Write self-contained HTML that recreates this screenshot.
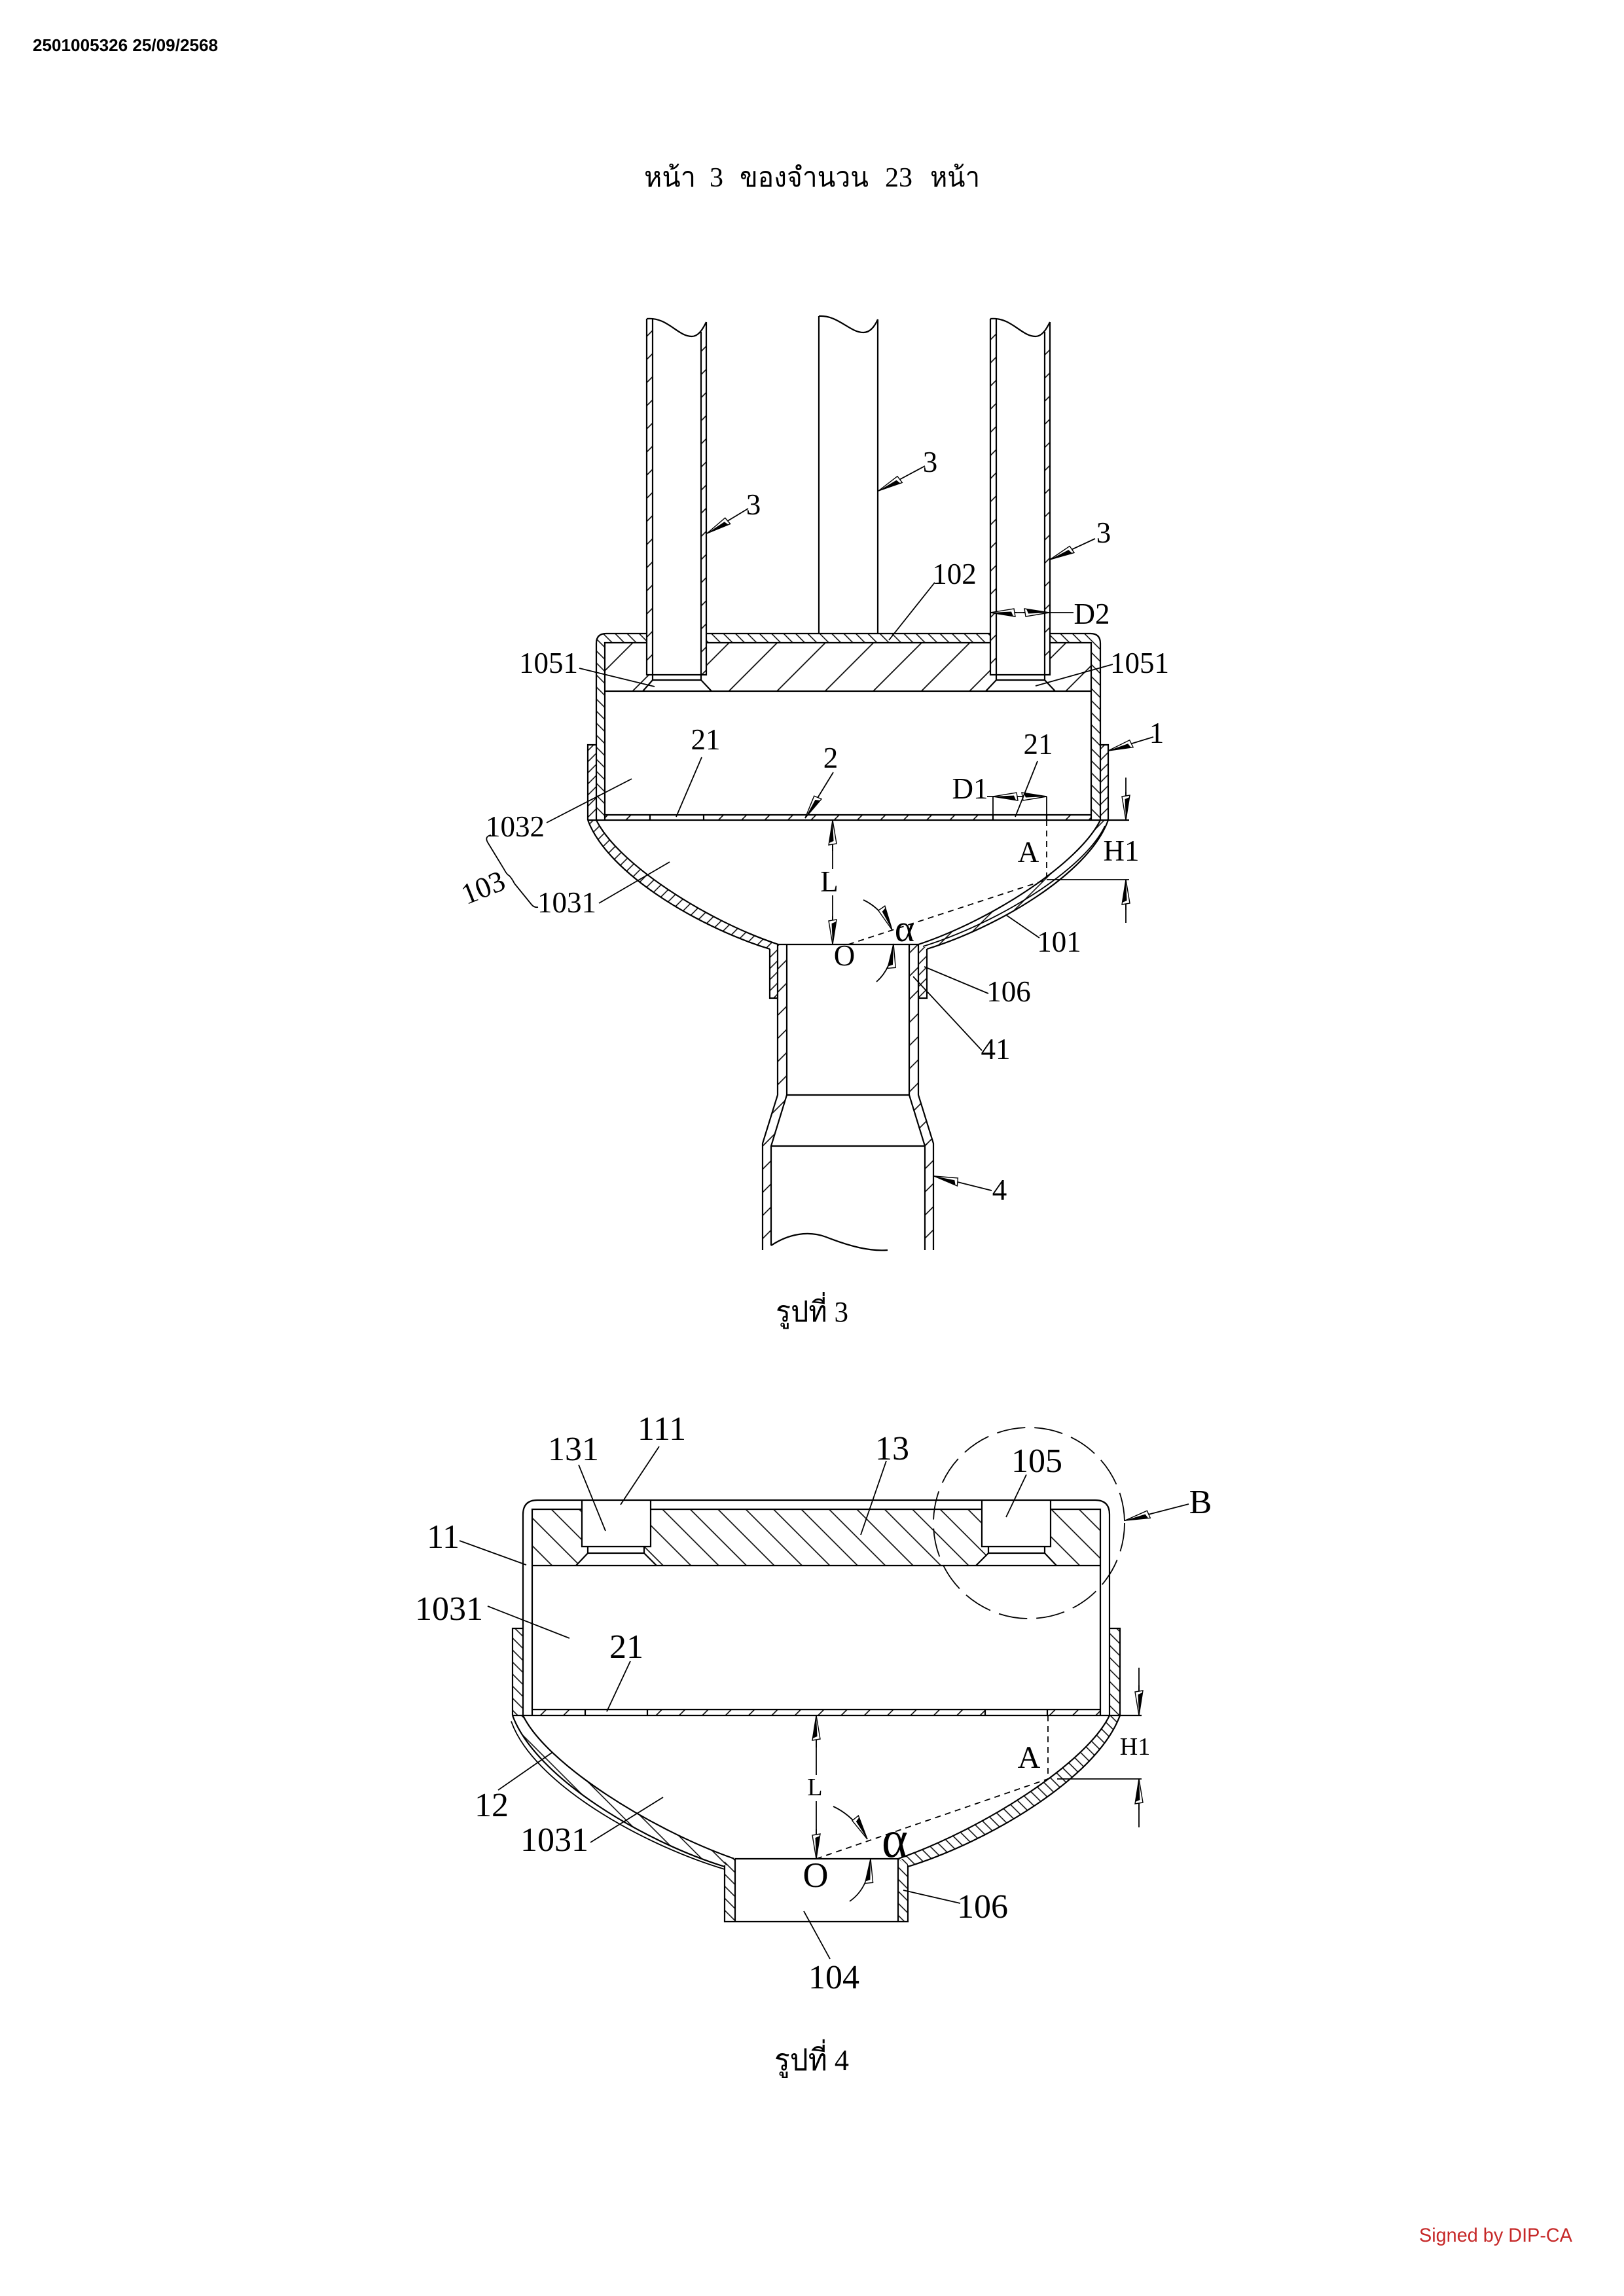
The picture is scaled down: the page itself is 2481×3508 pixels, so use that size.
<!DOCTYPE html>
<html><head><meta charset="utf-8"><style>
html,body{margin:0;padding:0;background:#fff;}
svg{display:block;}
.t{font-family:"Liberation Serif","Noto Serif CJK SC",serif;fill:#000;}
.ln{fill:none;stroke:#000;stroke-width:2.2;}
.ld{fill:none;stroke:#000;stroke-width:1.8;}
</style></head><body>
<svg width="2481" height="3508" viewBox="0 0 2481 3508" xmlns="http://www.w3.org/2000/svg">
<defs>
<pattern id="tw" width="25" height="25" patternUnits="userSpaceOnUse" patternTransform="rotate(45)"><line x1="12" y1="-2" x2="12" y2="27" stroke="#000" stroke-width="1.6"/></pattern>
<pattern id="hw" width="13" height="13" patternUnits="userSpaceOnUse" patternTransform="rotate(-45)"><line x1="6" y1="-2" x2="6" y2="15" stroke="#000" stroke-width="1.5"/></pattern>
<pattern id="sl" width="12" height="12" patternUnits="userSpaceOnUse" patternTransform="rotate(45)"><line x1="6" y1="-2" x2="6" y2="14" stroke="#000" stroke-width="1.5"/></pattern>
<pattern id="b3" width="52" height="52" patternUnits="userSpaceOnUse" patternTransform="rotate(45)"><line x1="26" y1="-2" x2="26" y2="54" stroke="#000" stroke-width="1.7"/></pattern>
<pattern id="bl3" width="13" height="13" patternUnits="userSpaceOnUse" patternTransform="rotate(45)"><line x1="6" y1="-2" x2="6" y2="15" stroke="#000" stroke-width="1.5"/></pattern>
<pattern id="br3" width="22" height="22" patternUnits="userSpaceOnUse" patternTransform="rotate(45)"><line x1="11" y1="-2" x2="11" y2="24" stroke="#000" stroke-width="1.5"/></pattern>
<pattern id="b4" width="30" height="30" patternUnits="userSpaceOnUse" patternTransform="rotate(-45)"><line x1="15" y1="-2" x2="15" y2="32" stroke="#000" stroke-width="1.6"/></pattern>
<pattern id="n4" width="13" height="13" patternUnits="userSpaceOnUse" patternTransform="rotate(-45)"><line x1="6" y1="-2" x2="6" y2="15" stroke="#000" stroke-width="1.5"/></pattern>
<pattern id="bl4" width="20" height="20" patternUnits="userSpaceOnUse" patternTransform="rotate(-45)"><line x1="10" y1="-2" x2="10" y2="22" stroke="#000" stroke-width="1.5"/></pattern>
<pattern id="br4" width="12" height="12" patternUnits="userSpaceOnUse" patternTransform="rotate(-45)"><line x1="6" y1="-2" x2="6" y2="14" stroke="#000" stroke-width="1.5"/></pattern>
<marker id="ar" viewBox="0 -8 40 16" refX="39" refY="0" markerWidth="40" markerHeight="16" markerUnits="userSpaceOnUse" orient="auto">
<path d="M39,0 L1,-6 L3,6 Z" fill="#fff" stroke="#000" stroke-width="1.4"/>
<path d="M39,0 L4,-5.5 L7,1.5 Z" fill="#000"/>
</marker>
</defs>
<rect x="0" y="0" width="2481" height="3508" fill="#fff"/>

<!-- Header -->
<text x="50" y="78" font-family="Liberation Sans, DejaVu Sans, sans-serif" font-weight="bold" font-size="26" textLength="283" lengthAdjust="spacingAndGlyphs">2501005326 25/09/2568</text>

<!-- Title -->
<g class="t" font-size="42">
<text x="984" y="285" textLength="79" lengthAdjust="spacingAndGlyphs">หน้า</text>
<text x="1084" y="285">3</text>
<text x="1130" y="285" textLength="197" lengthAdjust="spacingAndGlyphs">ของจำนวน</text>
<text x="1352" y="285">23</text>
<text x="1421" y="285" textLength="76" lengthAdjust="spacingAndGlyphs">หน้า</text>
</g>

<!-- ================= FIG 3 ================= -->
<path d="M911,1253 L911,983 Q911,968 926,968 L1666,968 Q1681,968 1681,983 L1681,1253 L1667,1253 L1667,982 L924,982 L924,1253 Z" fill="url(#hw)"/>
<path fill-rule="evenodd" fill="url(#b3)" d="M924,982 H1667 V1056 H924 Z M988,982 H1079 V1031 H1071 V1039 L1087,1056 H982 L997,1039 V1031 H988 Z M1513,982 H1604 V1031 H1596 V1039 L1612,1056 H1506 L1522,1039 V1031 H1513 Z"/>
<path class="ln" d="M911,1253 L911,983 Q911,968 926,968 L1666,968 Q1681,968 1681,983 L1681,1253"/>
<path class="ln" d="M924,1253 L924,982 L1667,982 L1667,1253"/>
<path class="ln" d="M924,1056 H1667"/>
<path class="ln" d="M997,1039 L982,1056 M1071,1039 L1087,1056 M1522,1039 L1506,1056 M1596,1039 L1612,1056"/>

<!-- left tube -->
<rect x="988" y="484" width="91" height="547" fill="#fff"/>
<rect x="988" y="492" width="9" height="539" fill="url(#tw)"/>
<rect x="1071" y="508" width="8" height="523" fill="url(#tw)"/>
<path class="ln" d="M988,487 C1020,484 1035,514 1057,514 C1068,514 1075,500 1079,492"/>
<path class="ln" d="M988,487 V1031 H1079 V492"/>
<path class="ln" d="M997,488 V1039 H1071 V507"/>
<!-- right tube -->
<rect x="1513" y="484" width="91" height="547" fill="#fff"/>
<rect x="1513" y="492" width="9" height="539" fill="url(#tw)"/>
<rect x="1596" y="508" width="8" height="523" fill="url(#tw)"/>
<path class="ln" d="M1513,487 C1545,484 1560,514 1582,514 C1593,514 1600,500 1604,492"/>
<path class="ln" d="M1513,487 V1031 H1604 V492"/>
<path class="ln" d="M1522,488 V1039 H1596 V507"/>
<!-- center rod -->
<path class="ln" d="M1251,483 C1280,481 1298,508 1319,508 C1330,508 1337,497 1341,488"/>
<path class="ln" d="M1251,483 V968 M1341,488 V968"/>

<!-- plate 2 -->
<rect x="924" y="1245" width="69" height="8" fill="url(#tw)"/>
<rect x="1075" y="1245" width="442" height="8" fill="url(#tw)"/>
<rect x="1599" y="1245" width="68" height="8" fill="url(#tw)"/>
<path class="ln" d="M924,1245 H1667 M898,1253 H1725 M993,1245 V1253 M1075,1245 V1253 M1517,1245 V1253 M1599,1245 V1253"/>

<!-- sleeves -->
<rect x="898" y="1138" width="13" height="115" fill="url(#sl)"/>
<rect x="1681" y="1138" width="12" height="115" fill="url(#sl)"/>
<path class="ln" d="M911,1138 H898 V1253 M1681,1138 H1693 V1253"/>

<!-- bowl -->
<path fill="url(#bl3)" d="M898,1253 C929,1336 1071,1418 1176,1450 L1189,1443 C1075,1405 943,1318 911,1253 Z"/>
<path fill="url(#br3)" d="M1693,1253 C1663,1336 1521,1418 1416,1450 L1403,1443 C1517,1405 1649,1318 1681,1253 Z"/>
<path class="ln" d="M898,1253 C929,1336 1071,1418 1176,1450"/>
<path class="ln" d="M911,1253 C943,1318 1075,1405 1189,1443"/>
<path class="ln" d="M1693,1253 C1663,1336 1521,1418 1416,1450"/>
<path class="ln" d="M1681,1253 C1649,1318 1517,1405 1403,1443"/>
<path class="ld" d="M1688,1262 C1656,1330 1520,1412 1410,1446"/>

<!-- neck / pipe -->
<rect x="1176" y="1447" width="12" height="78" fill="url(#sl)"/>
<rect x="1403" y="1447" width="13" height="78" fill="url(#sl)"/>
<rect x="1188" y="1443" width="14" height="230" fill="url(#tw)"/>
<rect x="1389" y="1443" width="14" height="230" fill="url(#tw)"/>
<path fill="url(#tw)" d="M1188,1673 L1202,1673 L1178,1751 L1165,1747 Z"/>
<path fill="url(#tw)" d="M1389,1673 L1403,1673 L1426,1747 L1413,1751 Z"/>
<rect x="1165" y="1747" width="13" height="163" fill="url(#tw)"/>
<rect x="1413" y="1747" width="13" height="163" fill="url(#tw)"/>
<path class="ln" d="M1188,1443 H1403"/>
<path class="ln" d="M1176,1450 V1525 H1188 M1416,1450 V1525 H1403"/>
<path class="ln" d="M1188,1443 V1673 L1165,1747 V1910"/>
<path class="ln" d="M1202,1443 V1673 L1178,1751 V1903"/>
<path class="ln" d="M1403,1443 V1673 L1426,1747 V1910"/>
<path class="ln" d="M1389,1443 V1673 L1413,1751 V1910"/>
<path class="ln" d="M1202,1673 H1389 M1178,1751 H1413"/>
<path class="ln" d="M1178,1903 C1205,1885 1235,1880 1262,1890 C1300,1905 1330,1912 1356,1910"/>

<!-- fig3 dims -->
<path class="ld" d="M1296,1443 L1599,1344 M1599,1253 V1344" stroke-dasharray="9 7"/>
<path class="ld" d="M1599,1344 H1725"/>
<path class="ld" d="M1272,1253 V1328 M1272,1368 V1443"/>
<path class="ld" marker-end="url(#ar)" d="M1272,1300 V1253"/>
<path class="ld" marker-end="url(#ar)" d="M1272,1400 V1443"/>
<path class="ld" d="M1720,1188 V1253 M1720,1410 V1344"/>
<path class="ld" marker-end="url(#ar)" d="M1720,1210 V1253"/>
<path class="ld" marker-end="url(#ar)" d="M1720,1390 V1344"/>
<path class="ld" d="M1513,936 H1640"/>
<path class="ld" marker-end="url(#ar)" d="M1553,936 H1513"/>
<path class="ld" marker-end="url(#ar)" d="M1563,936 H1603"/>
<path class="ld" d="M1508,1217 H1599 M1517,1217 V1245 M1599,1217 V1245"/>
<path class="ld" marker-end="url(#ar)" d="M1555,1217 H1517"/>
<path class="ld" marker-end="url(#ar)" d="M1562,1217 H1599"/>
<path class="ld" marker-end="url(#ar)" d="M1319,1375 Q1347,1388 1363,1421"/>
<path class="ld" marker-end="url(#ar)" d="M1339,1500 Q1362,1480 1365,1442"/>

<!-- fig3 leaders -->
<path class="ld" d="M1428,890 L1358,978 M885,1021 L1000,1049 M1700,1015 L1582,1048 M1072,1157 L1033,1248 M1585,1163 L1551,1248 M835,1257 L965,1190 M915,1380 L1023,1317 M1588,1433 L1537,1398 M1510,1518 L1412,1477 M1500,1605 L1395,1492"/>
<path class="ld" marker-end="url(#ar)" d="M1143,777 L1080,815"/>
<path class="ld" marker-end="url(#ar)" d="M1413,712 L1342,750"/>
<path class="ld" marker-end="url(#ar)" d="M1673,823 L1604,855"/>
<path class="ld" marker-end="url(#ar)" d="M1762,1126 L1693,1147"/>
<path class="ld" marker-end="url(#ar)" d="M1273,1180 L1230,1250"/>
<path class="ld" marker-end="url(#ar)" d="M1515,1819 L1427,1797"/>
<path class="ld" d="M750,1276 Q740,1278 745,1287 L770,1328 Q774,1336 778,1338 Q782,1342 786,1350 L812,1382 Q816,1387 822,1386"/>

<!-- fig3 labels -->
<g class="t" font-size="45" text-anchor="middle">
<text x="1151" y="786">3</text>
<text x="1421" y="721">3</text>
<text x="1686" y="829">3</text>
<text x="1458" y="892">102</text>
<text x="1668" y="953">D2</text>
<text x="838" y="1028">1051</text>
<text x="1741" y="1028">1051</text>
<text x="1767" y="1135">1</text>
<text x="1078" y="1145">21</text>
<text x="1269" y="1173">2</text>
<text x="1586" y="1152">21</text>
<text x="1482" y="1220">D1</text>
<text x="787" y="1278">1032</text>
<text x="866" y="1394">1031</text>
<text transform="translate(738,1356) rotate(-22)" y="15">103</text>
<text x="1571" y="1317">A</text>
<text x="1713" y="1315">H1</text>
<text x="1267" y="1362">L</text>
<text x="1290" y="1475">O</text>
<text x="1382" y="1438" font-size="58">α</text>
<text x="1618" y="1454">101</text>
<text x="1541" y="1530">106</text>
<text x="1521" y="1618">41</text>
<text x="1527" y="1833">4</text>
</g>
<text class="t" x="1185" y="2019" font-size="44" textLength="111" lengthAdjust="spacingAndGlyphs">รูปที่ 3</text>

<!-- ================= FIG 4 ================= -->
<path fill-rule="evenodd" fill="url(#b4)" d="M813,2306 H1681 V2392 H813 Z M889,2306 H994 V2363 H984 V2373 L1003,2392 H880 L898,2373 V2363 H889 Z M1500,2306 H1605 V2363 H1596 V2373 L1614,2392 H1491 L1510,2373 V2363 H1500 Z"/>
<path class="ln" d="M799,2621 V2314 Q799,2292 821,2292 H1673 Q1695,2292 1695,2314 V2621"/>
<path class="ln" d="M813,2621 V2306 H889 M994,2306 H1500 M1605,2306 H1681 V2621"/>
<path class="ln" d="M889,2292 V2363 H994 V2292 M898,2363 V2373 H984 V2363 M898,2373 L880,2392 M984,2373 L1003,2392"/>
<path class="ln" d="M1500,2292 V2363 H1605 V2292 M1510,2363 V2373 H1596 V2363 M1510,2373 L1491,2392 M1596,2373 L1614,2392"/>
<path class="ln" d="M813,2392 H1681"/>

<!-- plate -->
<rect x="813" y="2612" width="81" height="9" fill="url(#tw)"/>
<rect x="989" y="2612" width="516" height="9" fill="url(#tw)"/>
<rect x="1600" y="2612" width="81" height="9" fill="url(#tw)"/>
<path class="ln" d="M813,2612 H1681 M783,2621 H1744 M894,2612 V2621 M989,2612 V2621 M1505,2612 V2621 M1600,2612 V2621"/>

<!-- sleeves -->
<rect x="783" y="2488" width="16" height="133" fill="url(#n4)"/>
<rect x="1695" y="2488" width="16" height="133" fill="url(#n4)"/>
<path class="ln" d="M799,2488 H783 V2621 M1695,2488 H1711 V2621"/>

<!-- bowl -->
<path fill="url(#bl4)" d="M783,2621 C818,2716 984,2814 1107,2852 L1122,2840 C993,2795 834,2694 799,2621 Z"/>
<path fill="url(#br4)" d="M1711,2621 C1676,2716 1510,2814 1387,2852 L1372,2840 C1501,2795 1660,2694 1695,2621 Z"/>
<path class="ln" d="M783,2621 C818,2716 984,2814 1107,2852"/>
<path class="ln" d="M799,2621 C834,2694 993,2795 1122,2840"/>
<path class="ln" d="M1711,2621 C1676,2716 1510,2814 1387,2852"/>
<path class="ln" d="M1695,2621 C1660,2694 1501,2795 1372,2840"/>
<path class="ld" d="M781,2630 C814,2724 980,2818 1107,2856"/>

<!-- neck -->
<rect x="1107" y="2840" width="16" height="96" fill="url(#n4)"/>
<rect x="1372" y="2840" width="15" height="96" fill="url(#n4)"/>
<path class="ln" d="M1107,2850 V2936 H1387 V2850 M1123,2840 V2936 M1372,2840 V2936 M1123,2840 H1372"/>

<!-- circle B -->
<circle cx="1572" cy="2327" r="146" fill="none" stroke="#000" stroke-width="1.8" stroke-dasharray="44 14"/>

<!-- fig4 dims -->
<path class="ld" d="M1247,2840 L1601,2718 M1601,2621 V2718" stroke-dasharray="9 7"/>
<path class="ld" d="M1615,2718 H1744"/>
<path class="ld" d="M1247,2621 V2712 M1247,2752 V2840"/>
<path class="ld" marker-end="url(#ar)" d="M1247,2670 V2621"/>
<path class="ld" marker-end="url(#ar)" d="M1247,2795 V2840"/>
<path class="ld" d="M1740,2548 V2621 M1740,2792 V2718"/>
<path class="ld" marker-end="url(#ar)" d="M1740,2575 V2621"/>
<path class="ld" marker-end="url(#ar)" d="M1740,2765 V2718"/>
<path class="ld" marker-end="url(#ar)" d="M1273,2760 Q1305,2775 1325,2810"/>
<path class="ld" marker-end="url(#ar)" d="M1298,2905 Q1327,2885 1330,2840"/>

<!-- fig4 leaders -->
<path class="ld" d="M702,2354 L804,2391 M884,2238 L925,2339 M1007,2210 L948,2299 M745,2454 L870,2503 M963,2538 L927,2615 M1354,2232 L1315,2345 M1568,2253 L1537,2318 M761,2735 L843,2678 M902,2815 L1013,2746 M1467,2908 L1380,2888 M1268,2993 L1228,2920"/>
<path class="ld" marker-end="url(#ar)" d="M1816,2298 L1719,2323"/>

<!-- fig4 labels -->
<g class="t" font-size="52" text-anchor="middle">
<text x="876" y="2231">131</text>
<text x="1011" y="2200">111</text>
<text x="1363" y="2230">13</text>
<text x="1584" y="2249">105</text>
<text x="1834" y="2312">B</text>
<text x="677" y="2365">11</text>
<text x="686" y="2475">1031</text>
<text x="957" y="2533">21</text>
<text x="751" y="2775">12</text>
<text x="847" y="2828">1031</text>
<text x="1572" y="2701" font-size="48">A</text>
<text x="1734" y="2681" font-size="38">H1</text>
<text x="1245" y="2743" font-size="38">L</text>
<text x="1246" y="2883" font-size="54">O</text>
<text x="1367" y="2837" font-size="80" textLength="40" lengthAdjust="spacingAndGlyphs">α</text>
<text x="1501" y="2930">106</text>
<text x="1274" y="3038">104</text>
</g>
<text class="t" x="1183" y="3163" font-size="46" textLength="114" lengthAdjust="spacingAndGlyphs">รูปที่ 4</text>

<!-- Signature -->
<text x="2168" y="3425" font-family="Liberation Sans, DejaVu Sans, sans-serif" font-size="30" fill="#c62828" textLength="234" lengthAdjust="spacingAndGlyphs">Signed by DIP-CA</text>
</svg>
</body></html>
